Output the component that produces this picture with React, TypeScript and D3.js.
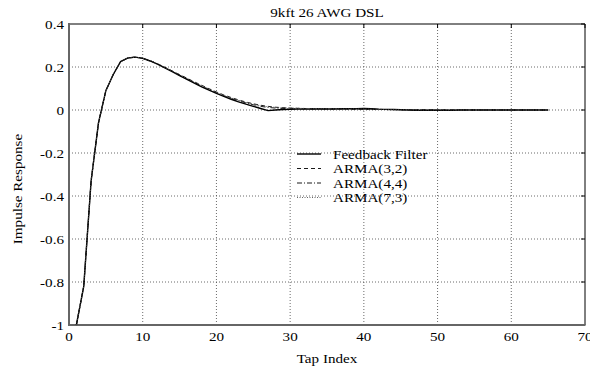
import React from 'react'
import * as d3 from 'd3'

const title = '9kft 26 AWG DSL'
const xLabel = 'Tap Index'
const yLabel = 'Impulse Response'

const xTicks = [0, 10, 20, 30, 40, 50, 60, 70]
const yTicks = [0.4, 0.2, 0, -0.2, -0.4, -0.6, -0.8, -1]

// tap index 1..65
const feedback = [
  -1.0, -0.82, -0.33, -0.06, 0.09, 0.165, 0.225, 0.242, 0.246, 0.24,
  0.228, 0.213, 0.196, 0.178, 0.16, 0.142, 0.125, 0.108, 0.092, 0.077,
  0.063, 0.05, 0.038, 0.027, 0.017, 0.007, -0.003, 0.0, 0.002, 0.003,
  0.004, 0.004, 0.005, 0.005, 0.005, 0.005, 0.006, 0.006, 0.006, 0.007,
  0.006, 0.004, 0.003, 0.002, 0.001, 0.0, -0.001, -0.001, -0.001, -0.001,
  -0.001, -0.001, 0.0, 0.0, 0.0, 0.0, 0.0, 0.0, 0.0, 0.0,
  0.0, 0.0, 0.0, 0.0, 0.0,
]
const arma32 = [
  -1.0, -0.82, -0.33, -0.06, 0.09, 0.165, 0.225, 0.242, 0.246, 0.241,
  0.23, 0.215, 0.199, 0.182, 0.165, 0.148, 0.131, 0.115, 0.099, 0.084,
  0.07, 0.058, 0.047, 0.037, 0.029, 0.022, 0.017, 0.013, 0.011, 0.009,
  0.008, 0.007, 0.006, 0.006, 0.005, 0.005, 0.004, 0.004, 0.004, 0.003,
  0.003, 0.003, 0.002, 0.002, 0.002, 0.001, 0.001, 0.001, 0.001, 0.0,
  0.0, 0.0, 0.0, 0.0, 0.0, 0.0, 0.0, 0.0, 0.0, 0.0,
  0.0, 0.0, 0.0, 0.0, 0.0,
]
const arma44 = [
  -1.0, -0.82, -0.33, -0.06, 0.09, 0.165, 0.225, 0.242, 0.246, 0.24,
  0.229, 0.214, 0.197, 0.18, 0.162, 0.145, 0.128, 0.111, 0.095, 0.08,
  0.066, 0.054, 0.043, 0.033, 0.024, 0.017, 0.012, 0.009, 0.007, 0.006,
  0.006, 0.005, 0.005, 0.005, 0.005, 0.005, 0.005, 0.005, 0.005, 0.005,
  0.004, 0.003, 0.002, 0.002, 0.001, 0.001, 0.0, 0.0, 0.0, 0.0,
  0.0, 0.0, 0.0, 0.0, 0.0, 0.0, 0.0, 0.0, 0.0, 0.0,
  0.0, 0.0, 0.0, 0.0, 0.0,
]
const arma73 = [
  -1.0, -0.82, -0.33, -0.06, 0.09, 0.165, 0.225, 0.242, 0.246, 0.241,
  0.23, 0.215, 0.198, 0.181, 0.164, 0.147, 0.13, 0.113, 0.097, 0.082,
  0.068, 0.056, 0.045, 0.035, 0.027, 0.02, 0.015, 0.012, 0.01, 0.009,
  0.008, 0.007, 0.006, 0.006, 0.006, 0.005, 0.005, 0.005, 0.005, 0.004,
  0.004, 0.003, 0.002, 0.002, 0.001, 0.001, 0.0, 0.0, 0.0, 0.0,
  0.0, 0.0, 0.0, 0.0, 0.0, 0.0, 0.0, 0.0, 0.0, 0.0,
  0.0, 0.0, 0.0, 0.0, 0.0,
]

const series = [
  { name: 'Feedback Filter', values: feedback, dash: null, color: '#000', w: 1.4 },
  { name: 'ARMA(3,2)', values: arma32, dash: '4,3', color: '#000', w: 0.9 },
  { name: 'ARMA(4,4)', values: arma44, dash: '5,2,1,2', color: '#000', w: 0.9 },
  { name: 'ARMA(7,3)', values: arma73, dash: '1,1.5', color: '#555', w: 0.9 },
]

const width = 590
const height = 370
const margin = { top: 24, right: 5, bottom: 45, left: 69 }
const font = '"Liberation Serif", "Times New Roman", serif'
const fs = 13.5
const sx = 1.12 // the original type is a bit wide

// text stretched horizontally around its anchor point
const T = ({ x, y, anchor = 'start', rot = 0, children }: any) => (
  <text transform={`translate(${x},${y}) rotate(${rot}) scale(${sx},1)`} textAnchor={anchor}
    fontFamily={font} fontSize={fs} fill="#000">{children}</text>
)

export default function App() {
  const x = d3.scaleLinear().domain([0, 70]).range([margin.left, width - margin.right])
  const y = d3.scaleLinear().domain([-1, 0.4]).range([height - margin.bottom, margin.top])
  const line = d3.line<number>().x((d, i) => x(i + 1)).y(d => y(d))
  const [x0, x1] = x.range()
  const [y0, y1] = y.range()

  return (
    <svg width={width} height={height} style={{ position: 'absolute', left: 0, top: 0, background: '#fff' }}>
      {/* grid */}
      <g stroke="#444" strokeWidth={0.8} strokeDasharray="1,2">
        {xTicks.slice(1, -1).map(t => <line key={'gx' + t} x1={x(t)} x2={x(t)} y1={y1} y2={y0} />)}
        {yTicks.slice(1, -1).map(t => <line key={'gy' + t} x1={x0} x2={x1} y1={y(t)} y2={y(t)} />)}
      </g>
      {/* ticks on top/right */}
      <g stroke="#000" strokeWidth={1}>
        {xTicks.map(t => <line key={'tt' + t} x1={x(t)} x2={x(t)} y1={y1} y2={y1 + 4} />)}
        {yTicks.map(t => <line key={'tr' + t} x1={x1} x2={x1 - 4} y1={y(t)} y2={y(t)} />)}
      </g>
      {/* frame */}
      <line x1={x0} x2={x1} y1={y1} y2={y1} stroke="#000" strokeWidth={1} />
      <line x1={x1} x2={x1} y1={y1} y2={y0} stroke="#000" strokeWidth={1} />
      <line x1={x0} x2={x0} y1={y1 - 1} y2={y0 + 1} stroke="#666" strokeWidth={2} />
      <line x1={x0 - 1} x2={x1 + 0.5} y1={y0} y2={y0} stroke="#666" strokeWidth={2} />
      {/* series */}
      {series.map(s => (
        <path key={s.name} d={line(s.values) || ''} fill="none" stroke={s.color}
          strokeWidth={s.w} strokeDasharray={s.dash || undefined} />
      ))}
      {/* tick labels */}
      {xTicks.map(t => <T key={'xl' + t} x={x(t)} y={y0 + 16} anchor="middle">{t}</T>)}
      {yTicks.map(t => <T key={'yl' + t} x={x0 - 5} y={y(t) + 5} anchor="end">{t}</T>)}
      {/* legend */}
      {series.map((s, i) => {
        const ly = 154 + i * 14.5
        return (
          <g key={'lg' + s.name}>
            <line x1={297} x2={321} y1={ly} y2={ly} stroke={s.color} strokeWidth={s.w}
              strokeDasharray={s.dash || undefined} />
            <T x={333} y={ly + 4.5}>{s.name}</T>
          </g>
        )
      })}
      {/* titles */}
      <T x={(x0 + x1) / 2} y={17} anchor="middle">{title}</T>
      <T x={(x0 + x1) / 2} y={363} anchor="middle">{xLabel}</T>
      <T x={22} y={189} anchor="middle" rot={-90}>{yLabel}</T>
    </svg>
  )
}
